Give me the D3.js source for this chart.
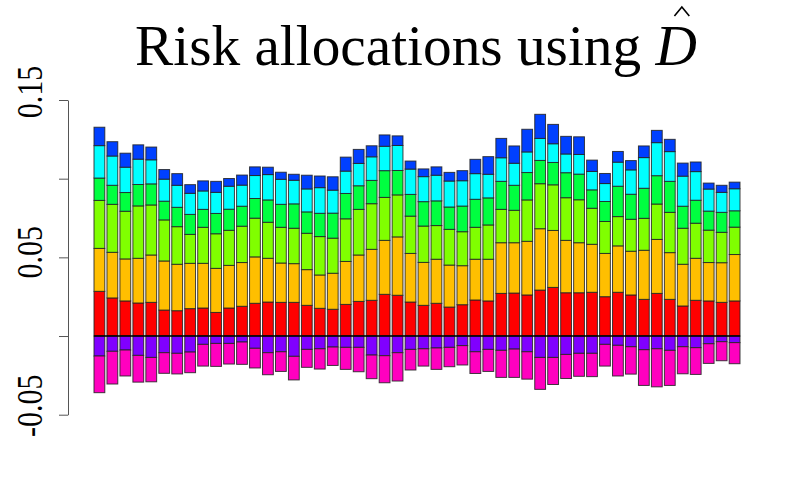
<!DOCTYPE html>
<html><head><meta charset="utf-8">
<script src="https://cdn.jsdelivr.net/npm/d3@7/dist/d3.min.js"></script>
<style>html,body{margin:0;padding:0;background:#fff}</style>
</head><body><svg id="c" width="800" height="500"></svg>
<script>
const seriesNames = ["s1","s2","s3","s4","s5","s6","s7","s8"];
const seriesColors = ["#FF0000","#FFBF00","#80FF00","#00FF40","#00FFFF","#0040FF","#8000FF","#FF00BF"];
const s1 = [0.0284,0.0242,0.0223,0.0210,0.0214,0.0165,0.0161,0.0174,0.0178,0.0150,0.0178,0.0189,0.0208,0.0216,0.0214,0.0214,0.0195,0.0176,0.0170,0.0201,0.0220,0.0227,0.0265,0.0259,0.0216,0.0195,0.0208,0.0184,0.0199,0.0229,0.0223,0.0271,0.0273,0.0261,0.0292,0.0309,0.0275,0.0275,0.0278,0.0250,0.0278,0.0261,0.0233,0.0271,0.0233,0.0191,0.0227,0.0223,0.0214,0.0223];
const s2 = [0.0273,0.0290,0.0267,0.0284,0.0301,0.0312,0.0295,0.0288,0.0284,0.0280,0.0271,0.0278,0.0295,0.0278,0.0250,0.0246,0.0227,0.0212,0.0229,0.0273,0.0295,0.0324,0.0343,0.0371,0.0309,0.0273,0.0280,0.0267,0.0248,0.0259,0.0265,0.0322,0.0320,0.0341,0.0390,0.0362,0.0333,0.0318,0.0305,0.0275,0.0295,0.0278,0.0312,0.0343,0.0297,0.0265,0.0267,0.0244,0.0252,0.0295];
const s3 = [0.0305,0.0305,0.0303,0.0333,0.0318,0.0261,0.0239,0.0184,0.0229,0.0220,0.0223,0.0231,0.0246,0.0229,0.0227,0.0225,0.0231,0.0244,0.0223,0.0271,0.0290,0.0290,0.0273,0.0267,0.0237,0.0231,0.0214,0.0227,0.0216,0.0203,0.0218,0.0212,0.0206,0.0263,0.0286,0.0290,0.0271,0.0273,0.0229,0.0203,0.0186,0.0203,0.0203,0.0225,0.0256,0.0229,0.0223,0.0206,0.0193,0.0174];
const s4 = [0.0142,0.0121,0.0119,0.0136,0.0134,0.0119,0.0123,0.0127,0.0114,0.0129,0.0134,0.0127,0.0125,0.0142,0.0146,0.0155,0.0136,0.0148,0.0159,0.0161,0.0150,0.0148,0.0170,0.0155,0.0138,0.0155,0.0157,0.0142,0.0163,0.0178,0.0172,0.0178,0.0159,0.0174,0.0148,0.0142,0.0159,0.0163,0.0117,0.0127,0.0193,0.0159,0.0191,0.0180,0.0197,0.0140,0.0146,0.0121,0.0127,0.0104];
const s5 = [0.0206,0.0186,0.0161,0.0161,0.0153,0.0140,0.0140,0.0134,0.0117,0.0134,0.0146,0.0134,0.0146,0.0161,0.0159,0.0150,0.0146,0.0163,0.0146,0.0142,0.0142,0.0150,0.0155,0.0159,0.0161,0.0159,0.0163,0.0165,0.0161,0.0163,0.0150,0.0150,0.0140,0.0131,0.0140,0.0119,0.0119,0.0125,0.0117,0.0114,0.0153,0.0155,0.0195,0.0210,0.0189,0.0191,0.0182,0.0140,0.0127,0.0140];
const s6 = [0.0117,0.0091,0.0089,0.0091,0.0081,0.0061,0.0074,0.0055,0.0064,0.0070,0.0049,0.0064,0.0055,0.0047,0.0045,0.0038,0.0087,0.0074,0.0085,0.0089,0.0089,0.0070,0.0072,0.0061,0.0051,0.0049,0.0053,0.0055,0.0064,0.0091,0.0112,0.0123,0.0110,0.0144,0.0153,0.0123,0.0112,0.0112,0.0072,0.0064,0.0068,0.0059,0.0074,0.0078,0.0078,0.0083,0.0061,0.0038,0.0045,0.0042];
const s7 = [-0.0127,-0.0097,-0.0089,-0.0123,-0.0136,-0.0106,-0.0110,-0.0102,-0.0053,-0.0047,-0.0047,-0.0038,-0.0078,-0.0106,-0.0100,-0.0129,-0.0085,-0.0081,-0.0070,-0.0072,-0.0072,-0.0121,-0.0125,-0.0106,-0.0085,-0.0081,-0.0076,-0.0072,-0.0061,-0.0100,-0.0085,-0.0091,-0.0083,-0.0100,-0.0136,-0.0136,-0.0117,-0.0110,-0.0110,-0.0053,-0.0059,-0.0068,-0.0087,-0.0081,-0.0091,-0.0068,-0.0074,-0.0049,-0.0036,-0.0042];
const s8 = [-0.0233,-0.0208,-0.0165,-0.0170,-0.0155,-0.0131,-0.0131,-0.0131,-0.0138,-0.0146,-0.0131,-0.0142,-0.0125,-0.0140,-0.0125,-0.0150,-0.0114,-0.0129,-0.0117,-0.0140,-0.0155,-0.0150,-0.0172,-0.0180,-0.0131,-0.0110,-0.0136,-0.0123,-0.0123,-0.0138,-0.0140,-0.0172,-0.0180,-0.0174,-0.0203,-0.0172,-0.0153,-0.0146,-0.0148,-0.0138,-0.0195,-0.0174,-0.0227,-0.0242,-0.0223,-0.0172,-0.0170,-0.0125,-0.0121,-0.0134];
const yTickValues = [-0.05, 0, 0.05, 0.10, 0.15];
const yTickLabels = ["-0.05", "0.05", "0.15"];
const yLabelValues = [-0.05, 0.05, 0.15];
const titleMain = "Risk allocations using ";
const titleSym = "D";

const allSeries = [s1,s2,s3,s4,s5,s6,s7,s8];
const rows = s1.map((_, i) => { const r = {idx: i}; seriesNames.forEach((k, j) => r[k] = allSeries[j][i]); return r; });

const svg = d3.select("#c");
const FONT = "'Liberation Serif', 'DejaVu Serif', 'Noto Serif', serif";

const x = d3.scaleBand().domain(d3.range(rows.length)).range([94, 740]).paddingInner(0.2/1.2).paddingOuter(0);
const y = d3.scaleLinear().domain([-0.05, 0.15]).range([414.7, 100]);
const color = d3.scaleOrdinal().domain(seriesNames).range(seriesColors);

const stacked = d3.stack().keys(seriesNames).offset(d3.stackOffsetDiverging)(rows);

svg.append("g").selectAll("g").data(stacked).join("g")
  .attr("fill", d => color(d.key))
  .selectAll("rect").data(d => d).join("rect")
  .attr("x", d => x(d.data.idx))
  .attr("width", x.bandwidth())
  .attr("y", d => y(Math.max(d[0], d[1])))
  .attr("height", d => Math.abs(y(d[0]) - y(d[1])))
  .attr("stroke", "#222").attr("stroke-width", 1)
  .attr("stroke-opacity", 0.85);

// zero line
svg.append("line")
  .attr("x1", x(0)).attr("x2", x(rows.length - 1) + x.bandwidth())
  .attr("y1", y(0)).attr("y2", y(0))
  .attr("stroke", "#000").attr("stroke-width", 1.6);

// y axis
const ax = svg.append("g").attr("transform", "translate(68,0)")
  .call(d3.axisLeft(y).tickValues(yTickValues).tickSize(9).tickSizeOuter(0).tickFormat(""));
ax.selectAll("path, line").attr("stroke", "#555").attr("stroke-width", 1);

const labelCenters = {"-0.05": -9, "0.05": -5, "0.15": -8};
yLabelValues.forEach((v, i) => {
  const lab = yTickLabels[i];
  svg.append("g")
    .attr("transform", `translate(42,${y(v) + labelCenters[lab]}) scale(1.22,1) rotate(-90)`)
    .append("text")
    .attr("text-anchor", "middle")
    .style("font-family", FONT)
    .style("font-size", "30px")
    .attr("fill", "#000")
    .text(lab);
});

// title
const title = svg.append("text")
  .attr("x", 0).attr("y", 65)
  .style("font-family", FONT)
  .style("font-size", "53px")
  .attr("fill", "#000");
title.append("tspan").text(titleMain);
title.append("tspan").style("font-style", "italic").text(titleSym);
const bb = title.node().getBBox();
const fs = 53 * 562 / bb.width;
title.style("font-size", fs + "px");
const bb2 = title.node().getBBox();
title.attr("x", 135 - bb2.x);
const dStart = title.node().getStartPositionOfChar(titleMain.length);
const dEnd = title.node().getEndPositionOfChar(titleMain.length);
const hcx = (dStart.x + dEnd.x) / 2 + fs * 0.1;
const hw = fs * 0.13;
svg.append("path")
  .attr("d", `M${hcx - hw},${16} L${hcx},${7} L${hcx + hw},${16}`)
  .attr("fill", "none").attr("stroke", "#000").attr("stroke-width", 1.6)
  .attr("stroke-linejoin", "miter");
</script></body></html>
